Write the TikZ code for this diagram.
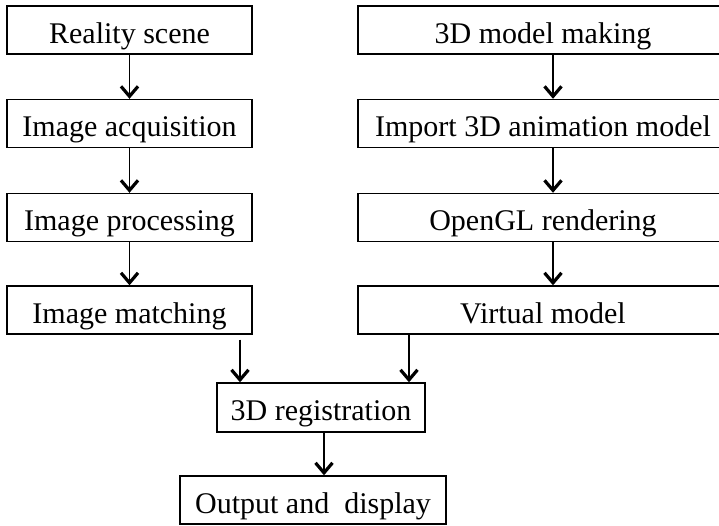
\documentclass[tikz,border=0pt]{standalone}
\usepackage{fontspec}
\setmainfont{Liberation Serif}
\usetikzlibrary{arrows.meta}
\begin{document}
\begin{tikzpicture}[x=1pt,y=-1pt,
  box/.style={draw, line width=1.4pt, inner sep=0pt, minimum height=48pt,
    text height=26pt, text depth=0pt,
    font=\fontsize{30}{36}\selectfont},
  lbox/.style={box, minimum width=245pt},
  rbox/.style={box, minimum width=370pt},
  arr/.style={line width=1.6pt, -{Straight Barb[length=10pt,width=17pt,line width=3.2pt]}}]
\useasboundingbox (0,0) rectangle (719,525);
\clip (0,0) rectangle (719,525);
\node[lbox] (a1) at (129.5,30) {Reality scene};
\node[lbox] (a2) at (129.5,123.5) {Image acquisition};
\node[lbox] (a3) at (129.5,217.5) {Image processing};
\node[lbox] (a4) at (129.5,310) {Image matching};
\node[rbox] (b1) at (543,30) {3D model making};
\node[rbox] (b2) at (543,123.5) {Import 3D animation model};
\node[rbox] (b3) at (543,217.5) {OpenGL rendering};
\node[rbox] (b4) at (543,310) {Virtual model};
\node[box, minimum width=208pt, minimum height=49pt] (reg) at (321,407.5) {3D registration};
\node[box, minimum width=266pt] (out) at (313,500) {Output and\ \ display};
\draw[arr] (a1) -- (a2);
\draw[arr] (a2) -- (a3);
\draw[arr] (a3) -- (a4);
\draw[arr] ([xshift=10pt]b1.south) -- ([xshift=10pt]b2.north);
\draw[arr] ([xshift=10pt]b2.south) -- ([xshift=10pt]b3.north);
\draw[arr] ([xshift=10pt]b3.south) -- ([xshift=10pt]b4.north);
\draw[arr] ([xshift=110.5pt,yshift=-5pt]a4.south) -- ([xshift=-81pt]reg.north);
\draw[arr] ([xshift=-134pt]b4.south) -- ([xshift=88pt]reg.north);
\draw[arr] ([xshift=3pt]reg.south) -- ([xshift=11pt]out.north);
\end{tikzpicture}
\end{document}
